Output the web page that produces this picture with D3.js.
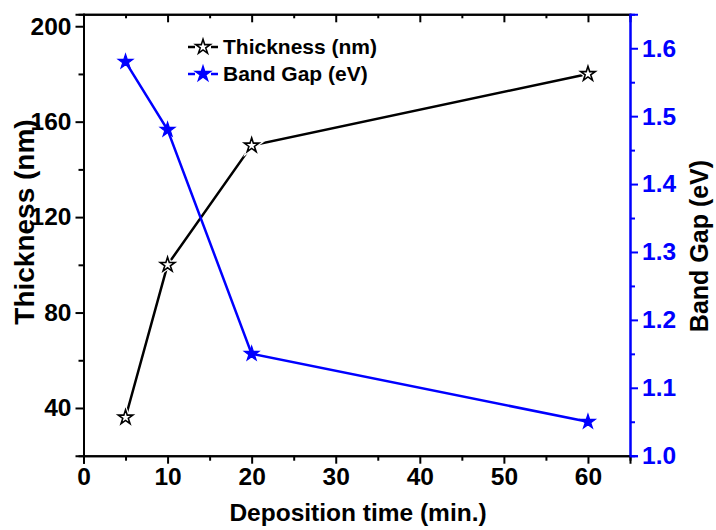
<!DOCTYPE html>
<html>
<head>
<meta charset="utf-8">
<script src="https://cdn.jsdelivr.net/npm/d3@7"></script>
<style>
  body { margin: 0; background: #fff; }
  text { font-family: "Liberation Sans", Arial, sans-serif; font-weight: bold; }
</style>
</head>
<body>
<div id="chart"></div>
<script>
const times = [5, 10, 20, 60];
const thickness = [36, 100, 150, 180];
const bandGap = [1.58, 1.48, 1.15, 1.05];
const xTicks = [0, 10, 20, 30, 40, 50, 60];
const leftTicks = [40, 80, 120, 160, 200];
const rightTicks = [1.0, 1.1, 1.2, 1.3, 1.4, 1.5, 1.6];
const seriesNames = ["Thickness (nm)", "Band Gap (eV)"];

const width = 716, height = 530;
const margin = { top: 14.3, right: 86, bottom: 74.3, left: 83.5 };
const innerW = width - margin.left - margin.right;
const innerH = height - margin.top - margin.bottom;
const blue = "#0000ff";

const svg = d3.select("#chart").append("svg")
  .attr("width", width).attr("height", height);
const g = svg.append("g").attr("transform", `translate(${margin.left},${margin.top})`);

const x = d3.scaleLinear().domain([0, 65]).range([0, innerW]);
const yL = d3.scaleLinear().domain([20, 205]).range([innerH, 0]);
const yR = d3.scaleLinear().domain([1.0, 1.65]).range([innerH, 0]);

function styleAxis(sel, color) {
  sel.select(".domain").attr("stroke", color).attr("stroke-width", 2);
  sel.selectAll(".tick line").attr("stroke", color).attr("stroke-width", 2);
  sel.selectAll(".tick text").attr("fill", color).style("font-size", "24.5px");
}

// minor ticks first
const xMinor = d3.range(5, 65, 10);
g.append("g").attr("transform", `translate(0,${innerH})`)
  .call(d3.axisBottom(x).tickValues(xMinor).tickSize(5).tickFormat(""))
  .call(s => styleAxis(s, "#000"));
g.append("g")
  .call(d3.axisTop(x).tickValues(xMinor).tickSize(-4).tickFormat(""))
  .call(s => styleAxis(s, "#000"));
g.append("g")
  .call(d3.axisTop(x).tickValues(xTicks).tickSize(-8).tickFormat(""))
  .call(s => styleAxis(s, "#000"));
g.append("g")
  .call(d3.axisLeft(yL).tickValues([60, 100, 140, 180]).tickSize(5).tickFormat(""))
  .call(s => styleAxis(s, "#000"));
g.append("g").attr("transform", `translate(${innerW},0)`)
  .call(d3.axisRight(yR).tickValues(d3.range(1.05, 1.65, 0.1)).tickSize(5).tickFormat(""))
  .call(s => styleAxis(s, blue));

// major axes
g.append("g").attr("transform", `translate(0,${innerH})`)
  .call(d3.axisBottom(x).tickValues(xTicks).tickSize(8).tickPadding(4).tickFormat(d3.format("d")))
  .call(s => styleAxis(s, "#000"));
g.append("g")
  .call(d3.axisLeft(yL).tickValues(leftTicks).tickSize(8).tickPadding(4).tickFormat(d3.format("d")))
  .call(s => styleAxis(s, "#000"));
g.append("g").attr("transform", `translate(${innerW},0)`)
  .call(d3.axisRight(yR).tickValues(rightTicks).tickSize(8).tickPadding(4).tickFormat(d3.format(".1f")))
  .call(s => styleAxis(s, blue));

// axis titles
svg.append("text")
  .attr("x", 358).attr("y", 521)
  .attr("text-anchor", "middle").style("font-size", "24.5px")
  .text("Deposition time (min.)");
svg.append("text")
  .attr("transform", "translate(34,222) rotate(-90)")
  .attr("text-anchor", "middle").style("font-size", "28px")
  .text("Thickness (nm)");
svg.append("text")
  .attr("transform", "translate(708,246) rotate(-90)")
  .attr("text-anchor", "middle").style("font-size", "25px")
  .text("Band Gap (eV)");

const star = d3.symbol().type(d3.symbolStar).size(66);
const thickData = times.map((t, i) => [t, thickness[i]]);
const gapData = times.map((t, i) => [t, bandGap[i]]);

g.append("path").datum(thickData)
  .attr("fill", "none").attr("stroke", "#000").attr("stroke-width", 2.5)
  .attr("d", d3.line().x(d => x(d[0])).y(d => yL(d[1])));
g.append("path").datum(gapData)
  .attr("fill", "none").attr("stroke", blue).attr("stroke-width", 2.5)
  .attr("d", d3.line().x(d => x(d[0])).y(d => yR(d[1])));

// white halo under the hollow stars, so the line stops short of them
g.selectAll("path.halo").data(thickData).join("path")
  .attr("class", "halo")
  .attr("transform", d => `translate(${x(d[0])},${yL(d[1])})`)
  .attr("d", star).attr("fill", "#fff").attr("stroke", "#fff").attr("stroke-width", 4);
g.selectAll("path.thick").data(thickData).join("path")
  .attr("class", "thick")
  .attr("transform", d => `translate(${x(d[0])},${yL(d[1])})`)
  .attr("d", star).attr("fill", "#fff").attr("stroke", "#000").attr("stroke-width", 1.6);
g.selectAll("path.gap").data(gapData).join("path")
  .attr("class", "gap")
  .attr("transform", d => `translate(${x(d[0])},${yR(d[1])})`)
  .attr("d", star).attr("fill", blue).attr("stroke", blue).attr("stroke-width", 1.2);

// legend
const legend = svg.append("g").attr("transform", "translate(188,47)");
const legendColors = ["#000", blue];
seriesNames.forEach((name, i) => {
  const row = legend.append("g").attr("transform", `translate(0,${i * 27})`);
  row.append("line").attr("x1", 0).attr("x2", 7).attr("stroke", legendColors[i]).attr("stroke-width", 2.5);
  row.append("line").attr("x1", 23).attr("x2", 30).attr("stroke", legendColors[i]).attr("stroke-width", 2.5);
  row.append("path").attr("transform", "translate(15,0)").attr("d", star)
    .attr("fill", i === 0 ? "#fff" : blue).attr("stroke", legendColors[i]).attr("stroke-width", 1.6);
  row.append("text").attr("x", 35).attr("y", 7).style("font-size", "21px").text(name);
});
</script>
</body>
</html>
